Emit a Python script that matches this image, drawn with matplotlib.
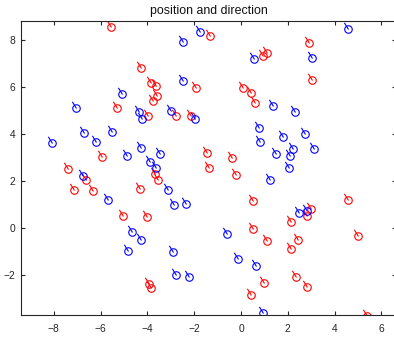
import numpy as np
import matplotlib
matplotlib.use('Agg')
import matplotlib.pyplot as plt
from matplotlib.path import Path

# positions
red_x = [-5.56, -1.32, -4.26, -3.86, -3.65, -3.60, -3.75, -5.30, -3.96, -2.79,
         -2.14, -1.94, -5.93, -7.38, 2.91, 0.95, 1.12, 3.02, 0.10, 0.44,
         0.60, -1.44, -0.40, -1.36, -6.61, -7.12, -6.31, -5.03, -4.00, -4.32,
         -3.66, -3.56, -3.93, -3.86, -0.21, 0.53, 4.57, 2.98, 2.83, 2.14,
         0.53, 1.11, 2.45, 4.99, 2.14, 2.36, 1.00, 2.81, 0.41, 5.37]
red_y = [8.55, 8.17, 6.78, 6.17, 6.04, 5.62, 5.40, 5.11, 4.74, 4.77,
         4.75, 5.95, 3.00, 2.49, 7.87, 7.31, 7.45, 6.29, 5.96, 5.74,
         5.29, 3.19, 2.98, 2.53, 2.04, 1.62, 1.55, 0.48, 0.44, 1.65,
         2.30, 2.02, -2.38, -2.58, 2.24, 1.12, 1.18, 0.81, 0.48, 0.26,
         -0.06, -0.58, -0.54, -0.35, -0.92, -2.11, -2.37, -2.52, -2.85, -3.74]

blue_x = [-1.76, 4.59, -2.48, 0.56, 3.02, -2.49, -5.10, -7.05, -4.35, -4.22,
          -2.98, -1.97, 1.37, 2.29, -6.72, -5.51, -6.21, -8.06, -4.29, -4.86,
          -3.46, -3.90, -3.65, 0.76, 2.72, 0.81, 1.81, 2.22, 3.13, 1.48,
          2.08, 2.03, -6.74, -5.70, -3.11, -2.86, -2.36, -4.65, -4.26, -4.84,
          -2.92, -2.78, -2.24, 1.24, 2.49, 2.83, -0.60, -0.14, 0.63, 0.95]
blue_y = [8.32, 8.44, 7.89, 7.19, 7.22, 6.24, 5.69, 5.09, 4.92, 4.63,
          4.98, 4.63, 5.18, 4.92, 4.04, 4.07, 3.66, 3.59, 3.38, 3.05,
          3.14, 2.80, 2.55, 4.23, 4.00, 3.63, 3.87, 3.35, 3.35, 3.15,
          3.05, 2.53, 2.21, 1.18, 1.62, 0.97, 1.02, -0.17, -0.51, -0.98,
          -1.02, -2.00, -2.11, 2.02, 0.64, 0.71, -0.25, -1.32, -1.64, -3.62]

plt.rcParams['font.family'] = ['Liberation Sans', 'DejaVu Sans']

# short direction stick drawn from the centre of each circle
stick = Path([(0, 0), (-0.62, 1.0)], [Path.MOVETO, Path.LINETO])

fig = plt.figure(figsize=(3.94, 3.37), dpi=100)
W, H = 394, 337
ax = fig.add_axes([21 / W, 1 - 315.3 / H, 375 / W, 294.6 / H])

for xs, ys, col in [(red_x, red_y, 'red'), (blue_x, blue_y, 'blue')]:
    ax.plot(xs, ys, linestyle='none', marker='o', markersize=5.4,
            markerfacecolor='none', markeredgecolor=col, markeredgewidth=0.8)
    ax.plot(xs, ys, linestyle='none', marker=stick, markersize=9.6,
            markeredgecolor=col, markeredgewidth=0.8)

ax.set_xlim(-9.4, 6.62)
ax.set_ylim(-3.73, 8.81)
ax.set_xticks(np.arange(-8, 7, 2))
ax.set_yticks(np.arange(-2, 9, 2))
ax.tick_params(direction='in', top=True, right=True, length=3, width=0.8,
               color='#262626', labelcolor='#262626', labelsize=7.4)
ax.tick_params(axis='x', pad=6)
ax.tick_params(axis='y', pad=4)
for s in ax.spines.values():
    s.set_color('#262626')
    s.set_linewidth(0.8)

ax.set_title('position and direction', fontsize=8.9, color='#111111', pad=4.5)

fig.savefig('out.png', dpi=100)
